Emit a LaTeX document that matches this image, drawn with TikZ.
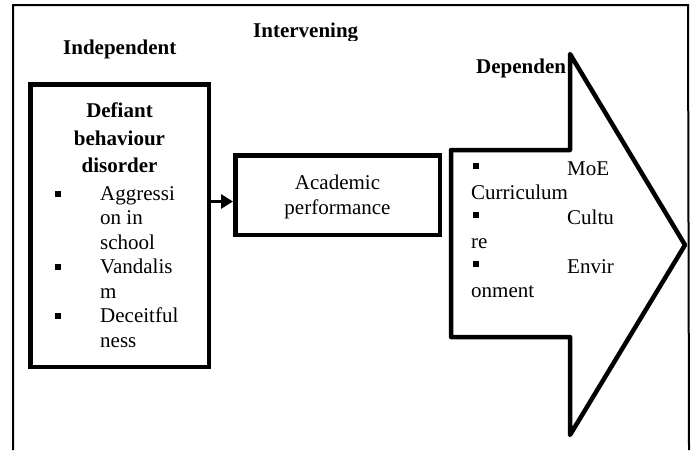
\documentclass[tikz,border=0pt]{standalone}
\usepackage{fontspec}
\setmainfont{Liberation Serif}
\usetikzlibrary{arrows.meta}
\newcommand\mybul{\rule{6pt}{6pt}}
\begin{document}
\begin{tikzpicture}[x=1pt,y=-1pt,
  txt/.style={font=\fontsize{21}{25}\selectfont, inner sep=0pt, anchor=base west},
  ctxt/.style={font=\fontsize{21}{25}\selectfont, inner sep=0pt, anchor=base},
  btxt/.style={font=\fontsize{21}{25}\selectfont\bfseries, inner sep=0pt, anchor=base},
  bul/.style={inner sep=0pt, anchor=south west},
  thickbox/.style={draw, line width=4.5pt, inner sep=0pt},
  frameline/.style={draw, line width=2pt},
  conn/.style={line width=3.5pt, -{Triangle[length=12pt,width=14pt]}}]
\useasboundingbox (0,0) rectangle (695,450);
% outer frame
\draw[frameline] (13,450) -- (13,5) -- (688,5) -- (689,450);
% headers
\node[btxt, anchor=base west] (hind) at (63,54) {Independent};
\begin{scope}
\clip (240,10) rectangle (380,40.5);
\node[btxt, anchor=base west] (hint) at (253,37) {Intervening};
\end{scope}
\node[btxt, anchor=base west] (hdep) at (476,73) {Dependen};
% left box
\node[thickbox, minimum width=178.5pt, minimum height=282.5pt] (indep) at (119.5,225.5) {};
\node[btxt] (l1) at (119.5,117) {Defiant};
\node[btxt] (l2) at (119.5,145) {behaviour};
\node[btxt] (l3) at (119.5,172) {disorder};
\node[bul] (b1) at (54.5,197) {\mybul};
\node[txt] (l4) at (100,200) {Aggressi};
\node[txt] (l5) at (100,224.5) {on in};
\node[txt] (l6) at (100,249) {school};
\node[bul] (b2) at (54.5,270.5) {\mybul};
\node[txt] (l7) at (100,273.5) {Vandalis};
\node[txt] (l8) at (100,298) {m};
\node[bul] (b3) at (54.5,319.5) {\mybul};
\node[txt] (l9) at (100,322.5) {Deceitful};
\node[txt] (l10) at (100,347) {ness};
% middle box
\node[thickbox, minimum width=204.5pt, minimum height=79.5pt] (acad) at (337.5,195) {};
\node[ctxt] (m1) at (337.5,189) {Academic};
\node[ctxt] (m2) at (337.5,214) {performance};
% connector
\coordinate (cy) at (0,201.5);
\draw[conn] (indep.east |- cy) -- (acad.west |- cy);
% right arrow
\draw[line width=4.5pt, line join=round] (451,150) -- (570,150) -- (570,54) -- (685,245) -- (570,435) -- (570,337) -- (451,337) -- cycle;
\node[bul] (r1) at (473,169) {\rule{5.5pt}{5.5pt}};
\node[txt] (t1) at (567,175) {MoE};
\node[txt] (t2) at (471,199.5) {Curriculum};
\node[bul] (r2) at (473,218) {\rule{5.5pt}{5.5pt}};
\node[txt] (t3) at (567,224) {Cultu};
\node[txt] (t4) at (471,248.5) {re};
\node[bul] (r3) at (473,267) {\rule{5.5pt}{5.5pt}};
\node[txt] (t5) at (567,273) {Envir};
\node[txt] (t6) at (471,297.5) {onment};
\end{tikzpicture}
\end{document}
